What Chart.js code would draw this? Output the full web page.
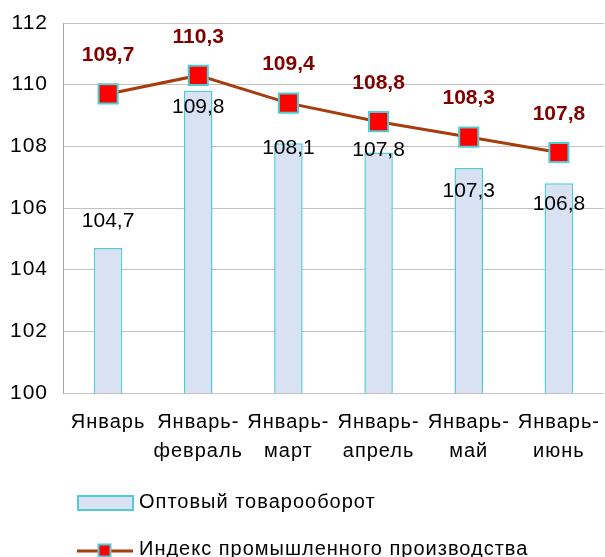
<!DOCTYPE html>
<html>
<head>
<meta charset="utf-8">
<script src="https://cdn.jsdelivr.net/npm/chart.js@4/dist/chart.umd.min.js"></script>
<style>
  html, body { margin: 0; padding: 0; background: #ffffff; }
  #wrap { width: 605px; height: 557px; position: relative; }
</style>
</head>
<body>
<div id="wrap"><canvas id="c" width="605" height="557"></canvas></div>
<script>
// ---- data ----
const categories = [
  ['Январь'],
  ['Январь-', 'февраль'],
  ['Январь-', 'март'],
  ['Январь-', 'апрель'],
  ['Январь-', 'май'],
  ['Январь-', 'июнь']
];
const wholesaleTurnover = [104.7, 109.8, 108.1, 107.8, 107.3, 106.8];
const industrialIndex = [109.7, 110.3, 109.4, 108.8, 108.3, 107.8];
const seriesNames = ['Оптовый товарооборот', 'Индекс промышленного производства'];
const yTicks = [100, 102, 104, 106, 108, 110, 112];

// ---- styling ----
const FONT = "'Liberation Sans', Arial, sans-serif";
const BAR_FILL = '#d9e2f3';
const BAR_BORDER = '#4fcdd3';
const LINE_COLOR = '#a53d0c';
const POINT_FILL = '#ff0000';
const POINT_BORDER = '#4fcdd3';
const LABEL_RED = '#800000';
const barLabelShift = [-27, 16, 5, -2, 23, 21];   // label centre relative to bar top (px)
const lineLabelShift = -38.5;                      // label centre relative to point (px)

const fmt = v => String(v.toFixed(1)).replace('.', ',');

const labelPlugin = {
  id: 'valueLabels',
  beforeDraw(chart) {
    chart.ctx.letterSpacing = '1px';
  },
  afterDatasetsDraw(chart) {
    const ctx = chart.ctx;
    ctx.save();
    ctx.letterSpacing = '0px';
    ctx.textAlign = 'center';
    ctx.textBaseline = 'middle';
    const barMeta = chart.getDatasetMeta(0);
    ctx.font = '21px ' + FONT;
    ctx.fillStyle = '#000000';
    barMeta.data.forEach((el, i) => {
      ctx.fillText(fmt(wholesaleTurnover[i]), el.x, el.y + barLabelShift[i]);
    });
    const lineMeta = chart.getDatasetMeta(1);
    ctx.font = 'bold 21px ' + FONT;
    ctx.fillStyle = LABEL_RED;
    lineMeta.data.forEach((el, i) => {
      ctx.fillText(fmt(industrialIndex[i]), el.x, el.y + lineLabelShift);
    });
    ctx.restore();
  },
  afterDraw(chart) {
    const ctx = chart.ctx;
    ctx.save();
    ctx.letterSpacing = '1px';
    ctx.font = '20px ' + FONT;
    ctx.textAlign = 'left';
    ctx.textBaseline = 'middle';
    // entry 1: bar
    ctx.fillStyle = BAR_FILL;
    ctx.fillRect(78, 496, 55, 14);
    ctx.strokeStyle = BAR_BORDER;
    ctx.lineWidth = 2;
    ctx.strokeRect(78, 496, 55, 14);
    ctx.fillStyle = '#000000';
    ctx.fillText(seriesNames[0], 139, 502);
    // entry 2: line with marker
    ctx.strokeStyle = LINE_COLOR;
    ctx.lineWidth = 3;
    ctx.beginPath();
    ctx.moveTo(77, 551);
    ctx.lineTo(133, 551);
    ctx.stroke();
    ctx.fillStyle = POINT_FILL;
    ctx.fillRect(98.5, 544.5, 12, 12);
    ctx.strokeStyle = POINT_BORDER;
    ctx.lineWidth = 2;
    ctx.strokeRect(98.5, 544.5, 12, 12);
    ctx.fillStyle = '#000000';
    ctx.fillText(seriesNames[1], 139, 549);
    ctx.restore();
  }
};

new Chart(document.getElementById('c'), {
  data: {
    labels: categories,
    datasets: [
      {
        type: 'bar',
        label: seriesNames[0],
        data: wholesaleTurnover,
        backgroundColor: BAR_FILL,
        borderColor: BAR_BORDER,
        borderWidth: 1.5,
        categoryPercentage: 1,
        barPercentage: 0.316,
        order: 2
      },
      {
        type: 'line',
        label: seriesNames[1],
        data: industrialIndex,
        borderColor: LINE_COLOR,
        borderWidth: 3,
        pointStyle: 'rect',
        pointRadius: 13.5,
        pointHoverRadius: 13.5,
        pointBackgroundColor: POINT_FILL,
        pointBorderColor: POINT_BORDER,
        pointBorderWidth: 2,
        tension: 0,
        clip: false,
        order: 1
      }
    ]
  },
  options: {
    responsive: false,
    animation: false,
    devicePixelRatio: 1,
    layout: { autoPadding: false, padding: { top: 23, right: 1, bottom: 91, left: 0 } },
    plugins: {
      legend: { display: false },
      tooltip: { enabled: false }
    },
    scales: {
      x: {
        offset: true,
        afterFit(scale) {
          scale.height = 73;
          scale.paddingLeft = 0;
          scale.paddingRight = 0;
        },
        grid: {
          display: true,
          drawOnChartArea: false,
          drawTicks: true,
          tickLength: 15,
          color: 'rgba(0,0,0,0)'
        },
        border: { display: false },
        ticks: {
          color: '#000000',
          padding: 0,
          maxRotation: 0,
          autoSkip: false,
          font: { family: FONT, size: 20, lineHeight: 1.45 }
        }
      },
      y: {
        min: yTicks[0],
        max: yTicks[yTicks.length - 1],
        afterBuildTicks(scale) { scale.ticks = yTicks.map(v => ({ value: v })); },
        afterFit(scale) {
          scale.width = 63;
          scale.paddingTop = 0;
          scale.paddingBottom = 0;
        },
        grid: { color: '#c3c3c3', lineWidth: 1, drawTicks: false },
        border: { display: true, color: '#a6a6a6', width: 1 },
        ticks: {
          color: '#000000',
          padding: 15,
          font: { family: FONT, size: 21 }
        }
      }
    }
  },
  plugins: [labelPlugin]
});
</script>
</body>
</html>
